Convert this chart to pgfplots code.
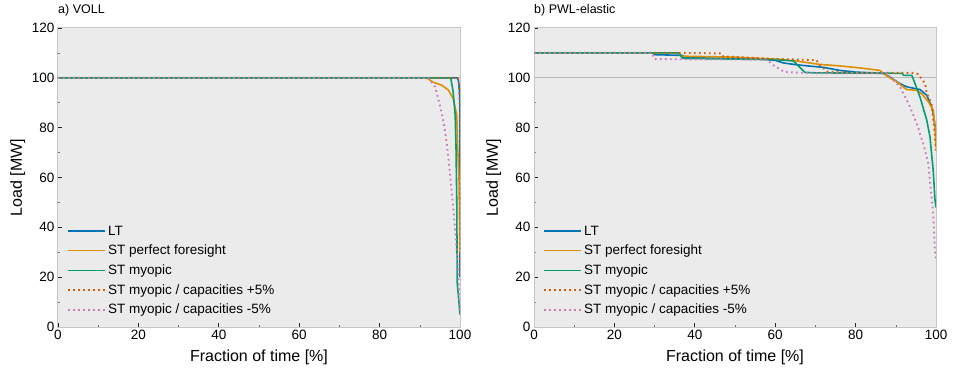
\documentclass[border=0pt]{standalone}
\usepackage{fontspec}
\setmainfont{Liberation Sans}
\usepackage{pgfplots}
\pgfplotsset{compat=1.18}

\definecolor{cbblue}{HTML}{0173B2}
\definecolor{cborange}{HTML}{DE8F05}
\definecolor{cbgreen}{HTML}{029E73}
\definecolor{cbred}{HTML}{D55E00}
\definecolor{cbpink}{HTML}{CC78BC}
\definecolor{panelbg}{HTML}{EBEBEB}

\pgfplotsset{
  panel/.style={
    scale only axis, width=402pt, height=299pt,
    xmin=0, xmax=100, ymin=0, ymax=120,
    xtick={0,20,...,100}, ytick={0,20,...,120},
    minor tick num=1,
    tick align=inside, tick pos=left,
    major tick length=4pt, minor tick length=2pt,
    major tick style={black!85, line width=0.8pt},
    minor tick style={black!55, line width=0.6pt},
    axis line style={black!22, line width=1pt},
    axis background/.style={fill=panelbg},
    ticklabel style={font=\fontsize{13.5}{16}\selectfont},
    /pgf/number format/assume math mode=true,
    label style={font=\fontsize{16}{19}\selectfont},
    xlabel={Fraction of time [\%]},
    ylabel={Load [MW]},
    xlabel style={at={(axis description cs:0.5,-0.1)}, anchor=center},
    ylabel style={at={(axis description cs:-0.1,0.5)}, anchor=center},
    title style={at={(axis description cs:0,1)}, anchor=base west, inner sep=0pt,
      yshift=8pt, font=\fontsize{12.5}{15}\selectfont},
    legend style={at={(0.015,0.025)}, anchor=south west, draw=none, fill=none,
      font=\fontsize{13.5}{16}\selectfont, row sep=4.4pt},
    legend cell align=left,
    legend image code/.code={
      \draw[##1] (0pt,0pt) -- (28pt,0pt);
      \path (0pt,0pt) -- (37pt,0pt);
    },
  },
  sl/.style={line width=1.6pt, line join=round},
  dl/.style={line width=1.9pt, dash pattern=on 1.7pt off 3.3pt},
}

\begin{document}
\begin{tikzpicture}
\path[use as bounding box] (-58pt,-48pt) rectangle (899pt,327pt);

% a) VOLL
\begin{axis}[panel, title={a) VOLL}]
  \addplot[forget plot, black!27, line width=1.2pt] coordinates {(0,100) (100,100)};
  \addplot[sl, cbblue] coordinates {
    (0,100) (99.3,100) (99.6,99) (99.8,96) (100,90) (100,20)
  };
  \addlegendentry{LT}
  \addplot[sl, cborange] coordinates {
    (0,100) (91.7,100) (92.4,99.2) (93.4,98.2) (95.4,97.1) (97.1,95.1)
    (98.3,91.7) (99.2,85) (99.4,73) (99.75,60) (100,30)
  };
  \addlegendentry{ST perfect foresight}
  \addplot[sl, cbgreen] coordinates {
    (0,100) (97.7,100) (98.3,94.3) (98.8,85) (99.0,73) (99.2,50)
    (99.3,18) (100,5)
  };
  \addlegendentry{ST myopic}
  \addplot[dl, cbred] coordinates {
    (0,100) (99.5,100) (99.8,97) (100,85) (100,20)
  };
  \addlegendentry{ST myopic / capacities +5\%}
  \addplot[dl, cbpink] coordinates {
    (0,100) (92.1,100) (93.8,96.4) (95,89) (95.9,82.4) (96.7,74)
    (97.5,61.6) (98.3,48.3) (99,34.8) (99.6,21.4) (99.8,10.7) (100,5)
  };
  \addlegendentry{ST myopic / capacities -5\%}
\end{axis}

% b) PWL-elastic
\begin{axis}[panel, at={(476pt,0pt)}, title={b) PWL-elastic}]
  \addplot[forget plot, black!27, line width=1.2pt] coordinates {(0,100) (100,100)};
  \addplot[sl, cbblue] coordinates {
    (0,110) (29.7,110) (29.9,109.3) (37,109) (37.3,108) (55,107.8)
    (60,107) (62,106) (65,105.3) (68,104.8) (72,104.2) (76,103)
    (80,102.3) (87,101.8) (88.6,100.2) (91,97.7) (92.7,96.4) (96,95.3)
    (97.7,93) (98.9,88.4) (99.3,85.7) (100,78)
  };
  \addlegendentry{LT}
  \addplot[sl, cborange] coordinates {
    (0,110) (36,110) (36.5,108.7) (50,108.3) (60,107.5) (65,106.8)
    (71,105.4) (76,104.8) (81,104) (86,103) (86.9,101.8) (88,100.5)
    (90.2,98.4) (92.7,95.3) (95.2,95) (96.5,93.5) (98.1,90.4) (99.3,87)
    (99.75,80) (100,72)
  };
  \addlegendentry{ST perfect foresight}
  \addplot[sl, cbgreen] coordinates {
    (0,110) (36,110) (37,107.8) (60,107.3) (64.5,106.8) (67.4,102.2)
    (70,102) (91.5,101.8) (92,101) (94,101) (96,92.4) (97.7,83)
    (98.5,76.3) (99.3,62.9) (99.75,50.9) (100,48)
  };
  \addlegendentry{ST myopic}
  \addplot[dl, cbred] coordinates {
    (0,110) (36.9,110) (46.7,109.8) (47,108.6) (60,107.6) (70.3,107.1)
    (70.8,105.5) (73.1,102.4) (80,102) (94.4,102) (95.5,101.5) (97.3,97.7)
    (97.7,93.7) (98.9,89.7) (99.75,76.3) (100,70)
  };
  \addlegendentry{ST myopic / capacities +5\%}
  \addplot[dl, cbpink] coordinates {
    (0,110) (29.3,110) (30,107.5) (57.9,107.3) (59.5,105.1) (61.2,103.4)
    (62.4,102.3) (70,101.8) (87.7,101.8) (89.8,98.4) (91,96.4) (91.9,93.7)
    (93.5,88.4) (95.2,81.7) (96.8,73.7) (98.1,65.6) (98.5,58)
    (98.9,52.2) (99.3,45.5) (99.75,30) (100,27)
  };
  \addlegendentry{ST myopic / capacities -5\%}
\end{axis}
\end{tikzpicture}
\end{document}
